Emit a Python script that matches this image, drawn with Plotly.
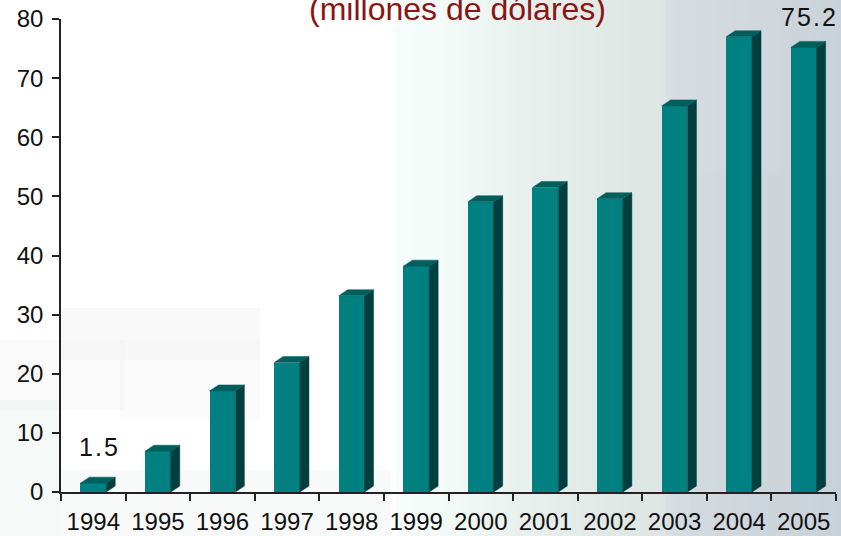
import plotly.graph_objects as go

# ---------------- data ----------------
years = ["1994", "1995", "1996", "1997", "1998", "1999",
         "2000", "2001", "2002", "2003", "2004", "2005"]
values = [1.5, 6.9, 17.1, 21.9, 33.2, 38.2, 49.1, 51.5, 49.6, 65.3, 77.0, 75.2]
labelled = ["1994", "2005"]          # bars carrying a value label
y_ticks = [0, 10, 20, 30, 40, 50, 60, 70, 80]
title_text = "(millones de dólares)"

# ---------------- geometry ----------------
W, H = 841, 536
ml, mr, mt, mb = 61, 5, 19, 44
pw, ph = W - ml - mr, H - mt - mb
n = len(years)
idx = list(range(n))
xr = (-0.5, n - 0.5)
yr = (0, 80)
ppx = pw / (xr[1] - xr[0])
ppy = ph / (yr[1] - yr[0])
bw = 0.40
dx = 9 / ppx
dy = 6 / ppy

FRONT, TOP, SIDE = "#008080", "#005f5c", "#003f3f"

fig = go.Figure()

# background strips (figure-wide gradient)
stops = [(0, "#ffffff"), (392, "#ffffff"), (400, "#f6fcfa"), (450, "#f2faf7"),
         (530, "#e8f0ed"), (600, "#e2eae7"), (665, "#dde5e4"), (672, "#d5dde3"),
         (760, "#d0d8de"), (841, "#c9d2d8")]


def hex2rgb(h):
    return tuple(int(h[i:i + 2], 16) for i in (1, 3, 5))


def lerp(c1, c2, t):
    a, b = hex2rgb(c1), hex2rgb(c2)
    return "rgb(%d,%d,%d)" % tuple(round(a[i] + (b[i] - a[i]) * t) for i in range(3))


def px_rect(x0, x1, y0, y1, col):
    return dict(type="rect", xref="paper", yref="paper", layer="below",
                x0=(x0 - ml) / pw, x1=(x1 - ml) / pw,
                y0=(H - mb - y1) / ph, y1=(H - mb - y0) / ph,
                fillcolor=col, line=dict(width=0))


shapes = []
step = 6
for x0 in range(0, W, step):
    xm = x0 + step / 2
    for (p0, c0), (p1, c1) in zip(stops[:-1], stops[1:]):
        if p0 <= xm <= p1:
            col = lerp(c0, c1, (xm - p0) / (p1 - p0) if p1 > p0 else 0)
            break
    shapes.append(px_rect(x0, x0 + step + 1, -2, H + 2, col))
# faint patches
for (x0, x1, y0, y1, col) in [(60, 260, 308, 360, "rgba(238,238,238,0.35)"),
                              (0, 125, 340, 410, "rgba(240,240,240,0.35)"),
                              (120, 260, 340, 420, "rgba(242,242,242,0.3)"),
                              (0, 60, 400, 536, "rgba(225,238,234,0.35)"),
                              (60, 390, 470, 536, "rgba(232,242,238,0.35)"),
                              (690, 841, 175, 536, "rgba(195,205,210,0.12)")]:
    shapes.append(px_rect(x0, x1, y0, y1, col))

# front faces
fig.add_trace(go.Bar(x=idx, y=values, width=bw, marker=dict(color=FRONT, line=dict(width=0)),
                     hoverinfo="skip", showlegend=False))

# side and top faces
sx, sy, tx, ty = [], [], [], []
for i, v in zip(idx, values):
    r = i + bw / 2
    l = i - bw / 2
    sx += [r, r + dx, r + dx, r, r, None]
    sy += [0, dy, v + dy, v, 0, None]
    tx += [l, l + dx, r + dx, r, l, None]
    ty += [v, v + dy, v + dy, v, v, None]
fig.add_trace(go.Scatter(x=sx, y=sy, mode="lines", fill="toself", fillcolor=SIDE,
                         line=dict(color=SIDE, width=0.5), hoverinfo="skip", showlegend=False))
fig.add_trace(go.Scatter(x=tx, y=ty, mode="lines", fill="toself", fillcolor=TOP,
                         line=dict(color=TOP, width=0.5), hoverinfo="skip", showlegend=False))

annotations = []
shifts = {"1994": 14, "2005": 8}
for yname in labelled:
    i = years.index(yname)
    annotations.append(dict(x=i, y=values[i] + dy, xref="x", yref="y",
                            text="&#8202;".join(str(values[i])),
                            showarrow=False, yanchor="bottom", xanchor="center",
                            xshift=5, yshift=shifts[yname],
                            font=dict(family="Liberation Sans", size=25, color="#111111")))
annotations.append(dict(x=(457 - ml) / pw, y=1, xref="paper", yref="paper", text=title_text,
                        showarrow=False, xanchor="center", yanchor="bottom", yshift=-10,
                        font=dict(family="Liberation Sans", size=32, color="#8b1414")))

fig.update_layout(
    width=W, height=H,
    margin=dict(l=ml, r=mr, t=mt, b=mb, pad=0, autoexpand=False),
    paper_bgcolor="white", plot_bgcolor="rgba(0,0,0,0)",
    shapes=shapes, annotations=annotations,
    bargap=0, showlegend=False,
    font=dict(family="Liberation Sans", size=24, color="#111111"),
)
fig.update_xaxes(range=list(xr), tickvals=idx, ticktext=years, ticks="", automargin=False,
                 showgrid=False, zeroline=False, showline=True, linecolor="#222222", linewidth=1.5,
                 ticklabelstandoff=7,
                 minor=dict(tickvals=[i - 0.5 for i in range(n + 1)], ticks="outside", ticklen=7,
                            tickcolor="#222222", tickwidth=1.5, showgrid=False),
                 tickfont=dict(family="Liberation Sans", size=24, color="#111111"))
fig.update_yaxes(range=list(yr), tickvals=y_ticks, ticks="outside", ticklen=7, tickwidth=1.5,
                 tickcolor="#222222", showgrid=False, zeroline=False, showline=True, automargin=False,
                 linecolor="#222222", linewidth=1.5, ticklabelstandoff=4,
                 tickfont=dict(family="Liberation Sans", size=24, color="#111111"))

fig.write_html("out.html", config={"displayModeBar": False},
               post_script="document.body.style.margin='0';document.body.style.overflow='hidden';")
